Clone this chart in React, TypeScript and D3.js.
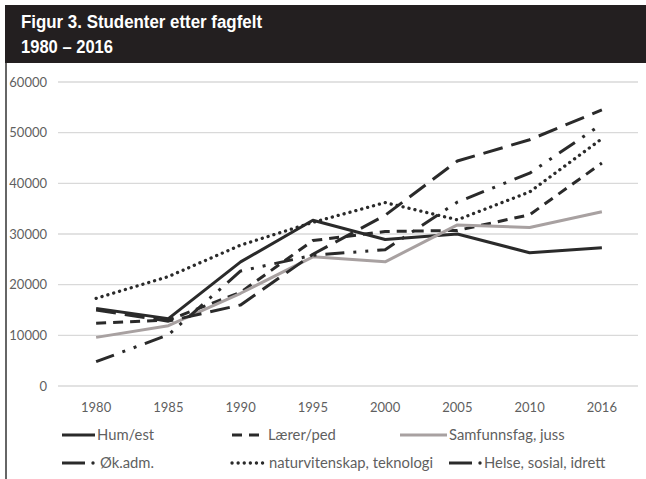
import * as d3 from 'd3';

const years = ['1980', '1985', '1990', '1995', '2000', '2005', '2010', '2016'];
const yTicks = [0, 10000, 20000, 30000, 40000, 50000, 60000];

const humEst = [15300, 13300, 24500, 32700, 28900, 30000, 26300, 27300];
const laererPed = [12400, 13000, 18500, 28700, 30500, 30700, 33800, 44000];
const samfunnsfag = [9600, 11900, 18300, 25500, 24500, 31800, 31300, 34400];
const okAdm = [15000, 12800, 16000, 26000, 33700, 44400, 48600, 54500];
const naturvitenskap = [17300, 21600, 27800, 32300, 36200, 32800, 38300, 48800];
const helse = [4800, 10100, 22700, 25800, 26900, 36300, 42000, 51700];

const names = [
  'Hum/est',
  'Lærer/ped',
  'Samfunnsfag, juss',
  'Øk.adm.',
  'naturvitenskap, teknologi',
  'Helse, sosial, idrett',
];

const W = 646;
const H = 479;
const dark = '#2a2a2a';

// line styles per series (same order as names)
const styles = [
  { color: dark, dash: undefined as string | undefined, cap: 'butt' },
  { color: dark, dash: '10 7', cap: 'butt' },
  { color: '#a8a1a1', dash: undefined, cap: 'butt' },
  { color: dark, dash: '20 9', cap: 'butt' },
  { color: dark, dash: '0.1 6', cap: 'round' },
  { color: dark, dash: '19 9 3 9 3 9', cap: 'butt' },
];

// legend sample geometry
const legendPos = [
  { x1: 62, x2: 95, dot: null as number | null, dash: undefined as string | undefined, tx: 97, row: 0 },
  { x1: 232, x2: 259, dot: null, dash: '10 7', tx: 268, row: 0 },
  { x1: 400, x2: 447, dot: null, dash: undefined, tx: 449, row: 0 },
  { x1: 62, x2: 85, dot: 93, dash: undefined, tx: 100, row: 1 },
  { x1: 232, x2: 264, dot: null, dash: '0.1 6', tx: 269, row: 1 },
  { x1: 449, x2: 472, dot: 480, dash: undefined, tx: 484, row: 1 },
];

export default function App() {
  const series = [humEst, laererPed, samfunnsfag, okAdm, naturvitenskap, helse];

  const x = d3.scalePoint<string>().domain(years).range([60, 638]).padding(0.5);
  const y = d3.scaleLinear().domain([0, 60000]).range([386, 82]);

  const line = d3
    .line<number>()
    .x((_, i) => x(years[i]) as number)
    .y((d) => y(d));

  const axisFont = { fontFamily: 'Lato, "Open Sans", sans-serif', fontSize: 13, fill: '#5f5f5f' };
  const rowY = [435, 463];

  return (
    <svg
      width={W}
      height={H}
      style={{ position: 'absolute', left: 0, top: 0, background: '#fff' }}
    >
      <rect x={0} y={0} width={W} height={H} fill="#fff" />
      <rect x={5} y={5} width={W - 5} height={58} fill="#231f20" />
      <line x1={6} x2={6} y1={63} y2={H} stroke="#333" strokeWidth={1.5} />
      <text
        x={21}
        y={28}
        fill="#fff"
        fontFamily="'Liberation Sans', Arial, sans-serif"
        fontWeight="bold"
        fontSize={17.5}
        textLength={241}
        lengthAdjust="spacingAndGlyphs"
      >
        Figur 3. Studenter etter fagfelt
      </text>
      <text
        x={21}
        y={53}
        fill="#fff"
        fontFamily="'Liberation Sans', Arial, sans-serif"
        fontWeight="bold"
        fontSize={17.5}
        textLength={92}
        lengthAdjust="spacingAndGlyphs"
      >
        1980 – 2016
      </text>

      {yTicks.map((t) => (
        <g key={t}>
          <line x1={58} x2={638} y1={y(t)} y2={y(t)} stroke="#d9d9d9" strokeWidth={1.3} />
          <text x={47} y={y(t) + 4.5} textAnchor="end" {...axisFont}>
            {t}
          </text>
        </g>
      ))}

      {years.map((yr) => (
        <text key={yr} x={x(yr)} y={412} textAnchor="middle" {...axisFont}>
          {yr}
        </text>
      ))}

      {series.map((s, i) => (
        <path
          key={names[i]}
          d={line(s) ?? ''}
          fill="none"
          stroke={styles[i].color}
          strokeWidth={i === 4 ? 3.3 : 3}
          strokeDasharray={styles[i].dash}
          strokeLinecap={styles[i].cap as any}
          strokeLinejoin="round"
        />
      ))}

      {legendPos.map((p, i) => {
        const ly = rowY[p.row];
        return (
          <g key={names[i]}>
            <line
              x1={p.x1}
              x2={p.x2}
              y1={ly}
              y2={ly}
              stroke={styles[i].color}
              strokeWidth={i === 4 ? 3.3 : 3}
              strokeDasharray={p.dash}
              strokeLinecap={styles[i].cap as any}
            />
            {p.dot !== null && <circle cx={p.dot} cy={ly} r={1.7} fill={dark} />}
            <text x={p.tx} y={ly + 5} {...axisFont} fontSize={14.8}>
              {names[i]}
            </text>
          </g>
        );
      })}
    </svg>
  );
}
